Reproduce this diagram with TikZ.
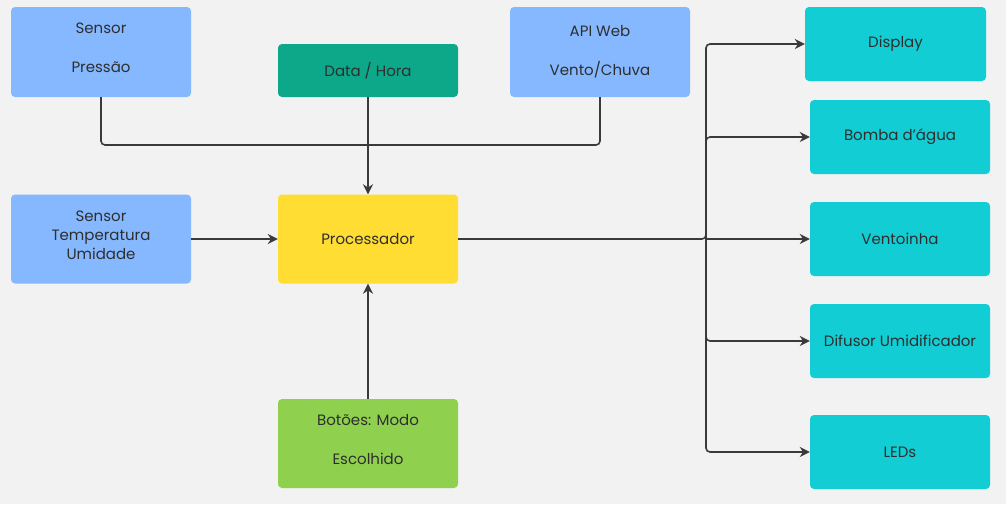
\documentclass[tikz,border=0pt]{standalone}
\usepackage{fontspec}
\setmainfont{Poppins}
\usetikzlibrary{arrows.meta}
\definecolor{bg}{HTML}{F2F2F2}
\definecolor{sblue}{HTML}{86B8FF}
\definecolor{steal}{HTML}{0DA789}
\definecolor{scyan}{HTML}{12CDD4}
\definecolor{syellow}{HTML}{FFDD33}
\definecolor{sgreen}{HTML}{8FD14F}
\definecolor{ink}{HTML}{2E2E2E}
\definecolor{wire}{HTML}{3A3A3A}
\tikzset{
  box/.style={rectangle, rounded corners=4pt, draw=none, minimum width=180pt, text=ink, align=center, font=\fontsize{15pt}{19pt}\selectfont, inner sep=0pt},
  conn/.style={draw=wire, line width=1.6pt, rounded corners=4pt},
  arr/.style={conn, -{Stealth[length=10pt,width=10pt]}}
}
\begin{document}
\begin{tikzpicture}[x=1pt,y=-1pt]
\fill[bg] (0,0) rectangle (1006,504);
\useasboundingbox (0,0) rectangle (1006,504);
% inputs
\node[box, fill=sblue, minimum height=90pt] (sp) at (101,52) {Sensor\\[20pt]Pressão\\[-11pt]\mbox{}};
\node[box, fill=steal, minimum height=53pt] (dh) at (368,70.5) {Data / Hora};
\node[box, fill=sblue, minimum height=90pt] (api) at (600,52) {API Web\\[20pt]Vento/Chuva};
\node[box, fill=sblue, minimum height=89pt] (st) at (101,239) {Sensor\\Temperatura\\Umidade\\[-11pt]\mbox{}};
\node[box, fill=syellow, minimum height=89pt] (proc) at (368,239) {Processador};
\node[box, fill=sgreen, minimum height=89pt] (bt) at (368,443.5) {Botões: Modo\\[20pt]Escolhido\\[-11pt]\mbox{}};
% outputs
\node[box, fill=scyan, minimum height=74pt, minimum width=181pt] (disp) at (895.5,44) {Display};
\node[box, fill=scyan, minimum height=74pt] (bomba) at (900,137) {Bomba d’água};
\node[box, fill=scyan, minimum height=74pt] (vent) at (900,239) {Ventoinha};
\node[box, fill=scyan, minimum height=74pt] (dif) at (900,341) {Difusor Umidificador};
\node[box, fill=scyan, minimum height=74pt] (led) at (900,452) {LEDs};
% junctions
\coordinate (j) at (368,145);
\coordinate (bus) at (706,239);
% input wires
\draw[conn] (sp.south) |- (j);
\draw[conn] (api.south) |- (j);
\draw[arr] (dh.south) -- (proc.north);
\draw[arr] (st.east) -- (proc.west);
\draw[arr] (bt.north) -- (proc.south);
% output wires
\draw[arr] (proc.east) -- (bus) |- (disp.west);
\draw[arr] (bus) |- (bomba.west);
\draw[arr] (bus) -- (vent.west);
\draw[arr] (bus) |- (dif.west);
\draw[arr] (bus) |- (led.west);
\end{tikzpicture}
\end{document}
